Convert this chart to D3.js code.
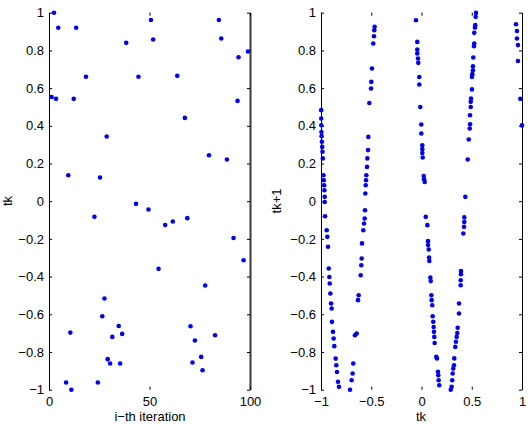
<!DOCTYPE html>
<html>
<head>
<meta charset="utf-8">
<script src="https://cdn.jsdelivr.net/npm/d3@7"></script>
<style>
  body { margin: 0; background: #fff; }
  text { font-family: 'Liberation Sans', Arial, sans-serif; }
</style>
</head>
<body>
<svg id="chart" width="528" height="424"></svg>
<script>
// left panel: value of tk at the i-th iteration
var iterIdx = [2.5, 4.6, 13.5, 38.4, 18.4, 44.5, 1.3, 3.5, 12.3, 28.7, 9.6, 25.4, 43.3,
  50.7, 84.5, 51.8, 85.7, 99, 94.3, 63.8, 93.8, 67.6, 79.6, 88.5, 49.5,
  22.6, 27.6, 26.5, 34.7, 10.6, 31.5, 36.4, 29.2, 30.4, 35.4, 8.5, 24.3, 11.1,
  57.8, 61.6, 68.8, 91.8, 96.8, 54.5, 77.7, 70.4, 72.6, 82.6, 75.7, 71.4, 76.4]
var iterVals = [1.0, 0.92, 0.92, 0.84, 0.66, 0.66, 0.553, 0.543, 0.543, 0.343, 0.138, 0.126, -0.014,
  0.961, 0.961, 0.858, 0.863, 0.794, 0.764, 0.665, 0.532, 0.442, 0.244, 0.221, -0.044,
  -0.083, -0.516, -0.61, -0.662, -0.697, -0.72, -0.704, -0.838, -0.861, -0.861, -0.962, -0.962, -1.0,
  -0.126, -0.108, -0.09, -0.195, -0.313, -0.359, -0.447, -0.663, -0.739, -0.711, -0.826, -0.856, -0.897]

// right panel: tk against tk+1
var tkNow = [
  -0.998, -0.998, -0.997, -0.996, -0.994, -0.991, -0.988, -0.985, -0.982, -0.976, -0.972, -0.969,
  -0.966, -0.963, -0.963, -0.960, -0.943, -0.937, -0.930, -0.923, -0.917, -0.913, -0.907, -0.900,
  -0.894, -0.891, -0.881, -0.874, -0.868, -0.854, -0.848, -0.841, -0.831, -0.821,
  -0.711, -0.695, -0.685, -0.679, -0.662, -0.645, -0.632, -0.625, -0.605, -0.599, -0.595, -0.592,
  -0.579, -0.572, -0.565, -0.562, -0.559, -0.555, -0.552, -0.549, -0.542, -0.539, -0.532, -0.529,
  -0.519, -0.502, -0.499, -0.493, -0.480, -0.473, -0.470, -0.466,
  -0.055, -0.042, -0.042, -0.042, -0.035, -0.032, -0.022, -0.022, -0.012, -0.002, -0.002, 0.008,
  0.008, 0.008, 0.012, 0.022, 0.025, 0.032, 0.042, 0.058, 0.065, 0.065, 0.072, 0.075,
  0.078, 0.088, 0.092, 0.098, 0.101, 0.107, 0.111, 0.117, 0.121, 0.124, 0.127, 0.131,
  0.147, 0.154, 0.164, 0.167, 0.171, 0.177,
  0.291, 0.300, 0.306, 0.310, 0.316, 0.323, 0.326, 0.336, 0.343, 0.350, 0.356, 0.360,
  0.373, 0.373, 0.390, 0.390, 0.393, 0.393, 0.416, 0.423, 0.426, 0.426, 0.436, 0.460,
  0.470, 0.480, 0.483, 0.483, 0.490, 0.490, 0.493, 0.502, 0.502, 0.506, 0.512, 0.512,
  0.515, 0.522, 0.525, 0.525, 0.532, 0.535, 0.539, 0.542,
  0.940, 0.950, 0.950, 0.960, 0.960, 0.983, 1.0]
var tkNext = [
  0.483, 0.439, 0.403, 0.367, 0.345, 0.315, 0.288, 0.262, 0.227, 0.138, 0.111, 0.085,
  0.058, 0.023, -0.004, -0.080, -0.154, -0.189, -0.242, -0.357, -0.402, -0.437, -0.490, -0.543,
  -0.569, -0.640, -0.693, -0.728, -0.769, -0.835, -0.870, -0.906, -0.958, -0.985,
  -1.000, -0.950, -0.914, -0.861, -0.711, -0.702, -0.525, -0.499, -0.393, -0.340, -0.304, -0.224,
  -0.154, -0.118, -0.092, -0.048, 0.041, 0.085, 0.111, 0.138, 0.182, 0.227, 0.271, 0.341,
  0.521, 0.598, 0.633, 0.704, 0.837, 0.875, 0.907, 0.925,
  0.960, 0.845, 0.805, 0.784, 0.757, 0.734, 0.659, 0.619, 0.500, 0.407, 0.359, 0.297,
  0.276, 0.256, 0.232, 0.134, 0.117, 0.102, -0.083, -0.127, -0.212, -0.233, -0.256, -0.299,
  -0.317, -0.405, -0.424, -0.499, -0.525, -0.552, -0.610, -0.640, -0.667, -0.693, -0.720, -0.752,
  -0.826, -0.834, -0.905, -0.923, -0.950, -0.976,
  -1.000, -0.985, -0.950, -0.914, -0.888, -0.870, -0.834, -0.773, -0.746, -0.720, -0.699, -0.672,
  -0.596, -0.543, -0.446, -0.419, -0.387, -0.370, -0.171, -0.136, -0.110, -0.086, 0.023, 0.221,
  0.327, 0.386, 0.408, 0.456, 0.500, 0.527, 0.545, 0.593, 0.659, 0.674, 0.695, 0.716,
  0.762, 0.822, 0.837, 0.893, 0.921, 0.934, 0.978, 0.999,
  0.939, 0.903, 0.863, 0.828, 0.744, 0.543, 0.402]

var yTicks = [1, 0.8, 0.6, 0.4, 0.2, 0, -0.2, -0.4, -0.6, -0.8, -1]
var yTickLabels = ['1', '0.8', '0.6', '0.4', '0.2', '0', '\u22120.2', '\u22120.4', '\u22120.6', '\u22120.8', '\u22121']
var leftXTicks = [0, 50, 100]
var leftXTickLabels = ['0', '50', '100']
var rightXTicks = [-1, -0.5, 0, 0.5, 1]
var rightXTickLabels = ['\u22121', '\u22120.5', '0', '0.5', '1']

var dotColor = '#0000f0'
var svg = d3.select('#chart')

var yScale = d3.scaleLinear().domain([-1, 1]).range([389.7, 12.7])
var xLeft = d3.scaleLinear().domain([0, 100]).range([49, 250])
var xRight = d3.scaleLinear().domain([-1, 1]).range([321, 522])

/**
 * Draws the box ticks and labels of one panel
 */
function drawAxes (g, x, xTicks, xLabels, edgeColor, edgeWidth) {
  g.append('g')
    .attr('transform', 'translate(' + x.range()[0] + ',0)')
    .call(d3.axisLeft(yScale).tickValues(yTicks)
      .tickFormat(function (d, i) { return yTickLabels[i] })
      .tickSizeInner(-3).tickSizeOuter(0).tickPadding(5))

  var right = g.append('g')
    .attr('transform', 'translate(' + x.range()[1] + ',0)')
    .call(d3.axisRight(yScale).tickValues(yTicks).tickFormat('')
      .tickSizeInner(-3).tickSizeOuter(0))
  right.select('.domain').attr('stroke', edgeColor).attr('stroke-width', edgeWidth)

  var bottom = g.append('g')
    .attr('transform', 'translate(0,' + yScale.range()[0] + ')')
    .call(d3.axisBottom(x).tickValues(xTicks)
      .tickFormat(function (d, i) { return xLabels[i] })
      .tickSizeInner(-3).tickSizeOuter(0).tickPadding(7))
  bottom.select('.domain').remove()

  var top = g.append('g')
    .attr('transform', 'translate(0,' + yScale.range()[1] + ')')
    .call(d3.axisTop(x).tickValues(xTicks).tickFormat('')
      .tickSizeInner(-3).tickSizeOuter(0))
  top.select('.domain').remove()

  g.selectAll('.tick text')
    .attr('font-size', 13)
    .attr('font-family', "'Liberation Sans', Arial, sans-serif")
    .attr('fill', '#000')
}

function drawDots (g, xs, ys, x) {
  g.append('g')
    .selectAll('circle')
    .data(xs)
    .enter()
    .append('circle')
    .attr('cx', function (d) { return x(d) })
    .attr('cy', function (d, i) { return yScale(ys[i]) })
    .attr('r', 2.3)
    .attr('fill', dotColor)
}

function axisTitle (text, x, y, rotate) {
  svg.append('text')
    .attr('transform', 'translate(' + x + ',' + y + ')' + (rotate ? ' rotate(-90)' : ''))
    .attr('text-anchor', 'middle')
    .attr('font-size', 13)
    .attr('fill', '#000')
    .text(text)
}

var gLeft = svg.append('g')
drawAxes(gLeft, xLeft, leftXTicks, leftXTickLabels, '#3a3a3a', 2)
drawDots(gLeft, iterIdx, iterVals, xLeft)

var gRight = svg.append('g')
drawAxes(gRight, xRight, rightXTicks, rightXTickLabels, '#000', 1)
drawDots(gRight, tkNow, tkNext, xRight)

// titles sit a little inside the frame so nothing gets clipped
axisTitle('tk', 12, 201, true)
axisTitle('i\u2212th iteration', 150, 421, false)
axisTitle('tk+1', 281, 201, true)
axisTitle('tk', 421, 421, false)
</script>
</body>
</html>
